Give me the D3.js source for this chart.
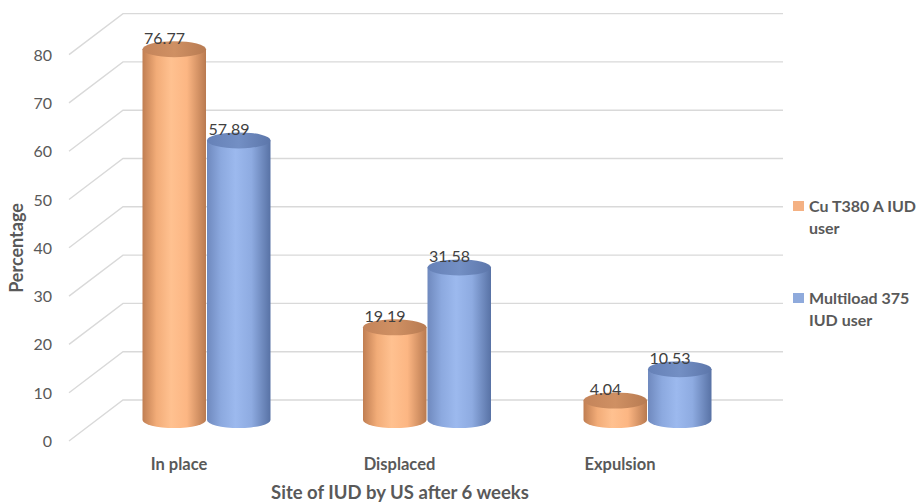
<!DOCTYPE html>
<html>
<head>
<meta charset="utf-8">
<script src="https://cdn.jsdelivr.net/npm/d3@7/dist/d3.min.js"></script>
<style>
  html, body { margin: 0; padding: 0; background: #fff; }
  svg { display: block; font-family: Lato, "Open Sans", sans-serif; }
</style>
</head>
<body>
<svg id="chart" width="919" height="502"></svg>
<script>
// Site of IUD by ultrasound after 6 weeks
const categories = ["In place", "Displaced", "Expulsion"];
const seriesNames = ["Cu T380 A IUD user", "Multiload 375 IUD user"];
const cuT380 = [76.77, 19.19, 4.04];
const multiload = [57.89, 31.58, 10.53];
const yTicks = [0, 10, 20, 30, 40, 50, 60, 70, 80];
const legendLines = [["Cu T380 A IUD", "user"], ["Multiload 375", "IUD user"]];
const xTitle = "Site of IUD by US after 6 weeks";
const yTitle = "Percentage";

const svg = d3.select("#chart");
const defs = svg.append("defs");

// 3D frame geometry: back wall, and slanted floor edge toward the front
const depth = { dx: -54, dy: 41 };
const yBack = d3.scaleLinear().domain([0, 80]).range([400, 13.6]);
const yBar = d3.scaleLinear().domain([0, 80]).range([420, 33.6]);
const xCat = d3.scalePoint().domain(categories).range([206, 647]);
const xSeries = d3.scaleBand().domain(seriesNames).range([-64, 65]).padding(0);
const wallRight = 783;

// gridlines: slanted side wall segment + horizontal back wall segment
const grid = svg.append("g").attr("fill", "none").attr("stroke", "#D9D9D9").attr("stroke-width", 1.4);
yTicks.forEach(t => {
  const yb = yBack(t);
  grid.append("path")
    .attr("d", `M${123 + depth.dx},${yb + depth.dy} L123,${yb} L${wallRight},${yb}`);
});

// y tick labels
svg.append("g").selectAll("text").data(yTicks).join("text")
  .attr("x", 52).attr("y", d => yBack(d) + depth.dy + 2)
  .attr("text-anchor", "end").attr("dominant-baseline", "middle")
  .attr("font-size", 16).attr("fill", "#595959")
  .text(d => d);

// cylinder shading
const palettes = [
  { body: ["#C07E52", "#F2AC78", "#FFC190", "#FCB683", "#B97A50"], top: ["#C4845A", "#CF9063", "#B87B52"] },
  { body: ["#6F89BE", "#8CA9DF", "#9CB9EE", "#8EABE1", "#5872A5"], top: ["#6681B7", "#738FC4", "#5C76AA"] }
];
palettes.forEach((p, i) => {
  const g = defs.append("linearGradient").attr("id", "body" + i).attr("x1", 0).attr("x2", 1).attr("y1", 0).attr("y2", 0);
  [0, 0.22, 0.45, 0.7, 1].forEach((o, k) => g.append("stop").attr("offset", o).attr("stop-color", p.body[k]));
  const t = defs.append("linearGradient").attr("id", "top" + i).attr("x1", 0).attr("x2", 1).attr("y1", 0).attr("y2", 0);
  [0, 0.5, 1].forEach((o, k) => t.append("stop").attr("offset", o).attr("stop-color", p.top[k]));
});

const rx = xSeries.bandwidth() / 2 - 0.5;
const ry = 8;
const values = [cuT380, multiload];

const bars = svg.append("g");
categories.forEach((cat, ci) => {
  seriesNames.forEach((s, si) => {
    const v = values[si][ci];
    const cx = xCat(cat) + xSeries(s) + xSeries.bandwidth() / 2;
    const yb = yBar(0);
    const yt = yBar(v);
    const g = bars.append("g");
    g.append("path")
      .attr("d", `M${cx - rx},${yt} L${cx - rx},${yb} A${rx},${ry} 0 0 0 ${cx + rx},${yb} L${cx + rx},${yt} Z`)
      .attr("fill", `url(#body${si})`);
    g.append("ellipse")
      .attr("cx", cx).attr("cy", yt).attr("rx", rx).attr("ry", ry)
      .attr("fill", `url(#top${si})`);
    // value label
    g.append("text")
      .attr("x", cx - rx + 22).attr("y", yt - ry + 3)
      .attr("text-anchor", "middle")
      .attr("font-size", 16).attr("fill", "#404040")
      .text(v.toFixed(2));
  });
});

// category labels at the front edge
svg.append("g").selectAll("text").data(categories).join("text")
  .attr("x", d => xCat(d) - 27).attr("y", 470)
  .attr("text-anchor", "middle")
  .attr("font-size", 16.5).attr("font-weight", "bold").attr("fill", "#595959")
  .text(d => d);

// axis titles
svg.append("text")
  .attr("x", 400).attr("y", 499)
  .attr("text-anchor", "middle")
  .attr("font-size", 18.5).attr("font-weight", "bold").attr("fill", "#595959")
  .text(xTitle);

svg.append("text")
  .attr("transform", "translate(23,248) rotate(-90)")
  .attr("text-anchor", "middle")
  .attr("font-size", 18).attr("font-weight", "bold").attr("fill", "#595959")
  .text(yTitle);

// legend
const legendColors = ["#F4B183", "#8FAADC"];
const legend = svg.append("g");
[201, 293].forEach((y, i) => {
  legend.append("rect").attr("x", 793).attr("y", y).attr("width", 11).attr("height", 10).attr("fill", legendColors[i]);
  legendLines[i].forEach((line, k) => {
    legend.append("text")
      .attr("x", 809).attr("y", y + 11 + k * 22)
      .attr("font-size", 16).attr("font-weight", "bold").attr("fill", "#595959")
      .text(line);
  });
});
</script>
</body>
</html>
